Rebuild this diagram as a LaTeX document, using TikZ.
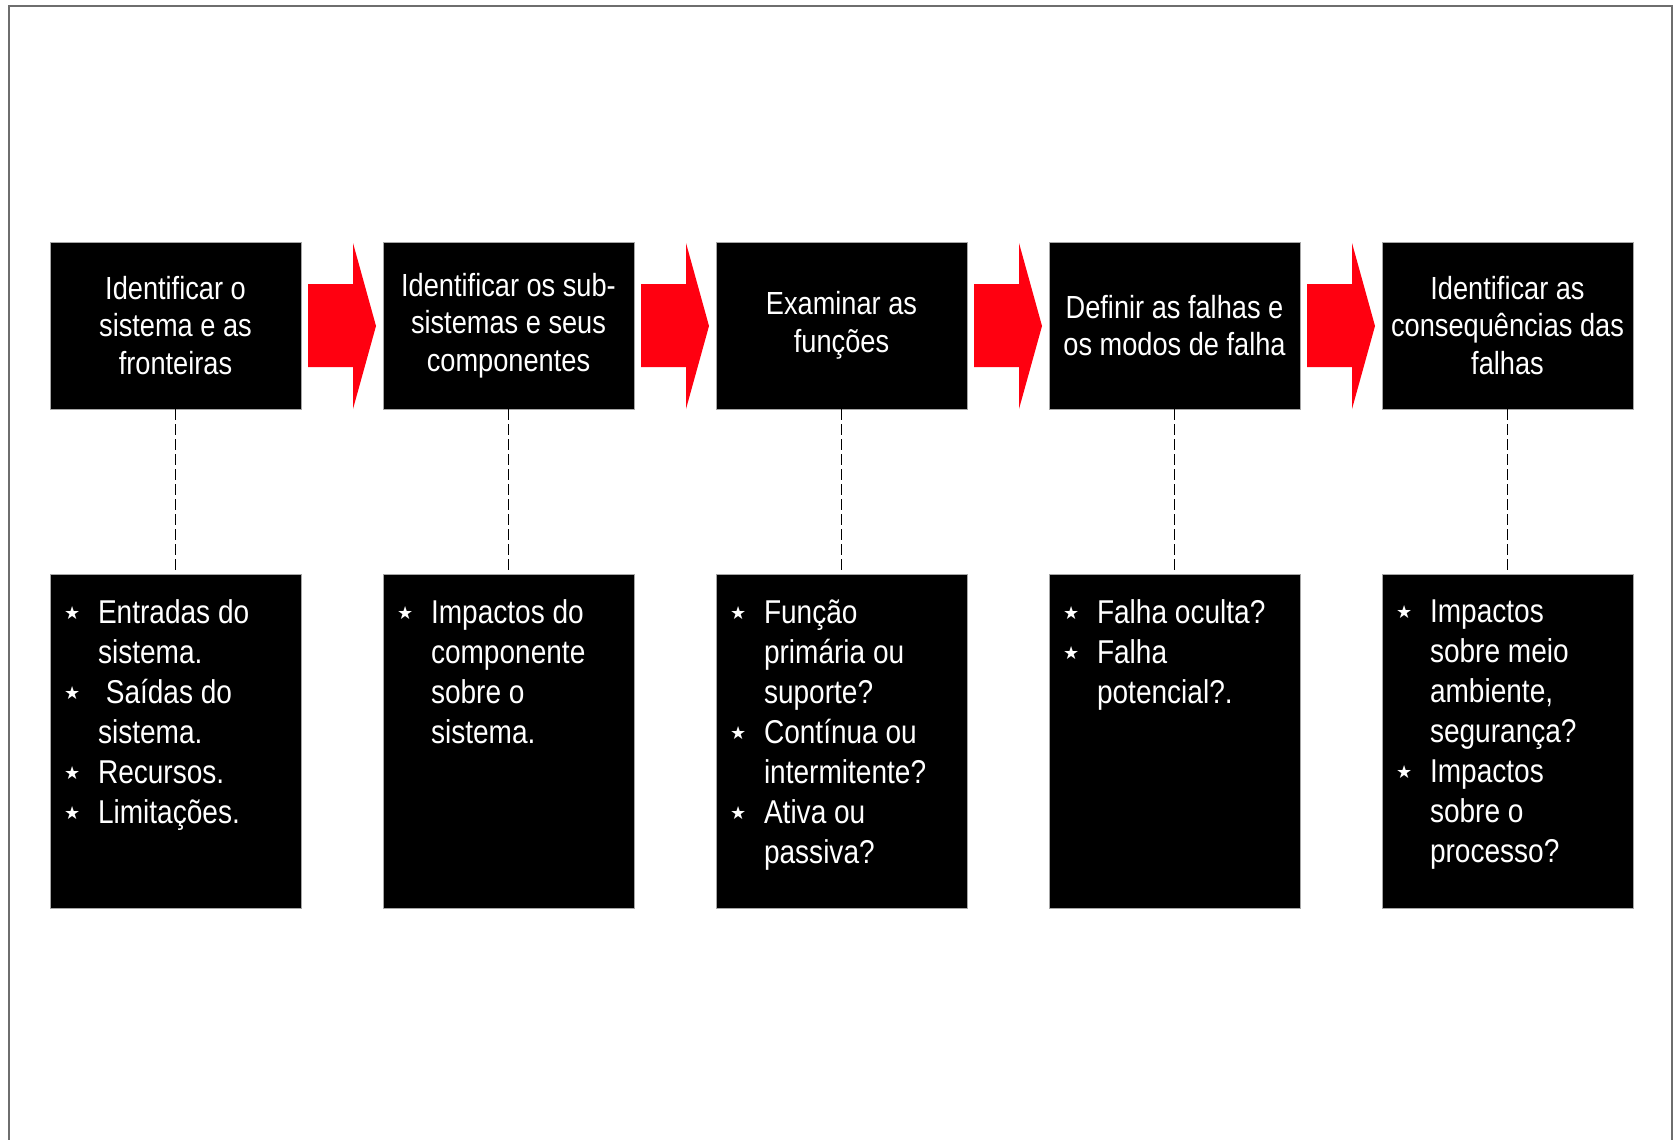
\documentclass[tikz,border=0pt]{standalone}
\usepackage{fontspec}
\setmainfont{Liberation Sans}[FakeStretch=0.85]
\newfontfamily\starfont{DejaVu Sans}
\definecolor{arrred}{RGB}{255,0,16}
\definecolor{framegray}{RGB}{110,110,110}
\newcommand{\itm}[1]{\par\noindent\llap{\makebox[35pt][l]{\hspace{1pt}\raisebox{4pt}{\starfont\fontsize{18}{18}\selectfont ★}}}#1}
\newcommand{\lowtext}[1]{\parbox[c][334pt][t]{225pt}{\raggedright\leftskip=35pt\parindent=0pt\fontsize{33}{40}\selectfont\vspace*{25pt}#1\par}}
\begin{document}
\begin{tikzpicture}[x=1pt,y=-1pt,
  topbox/.style={fill=black,draw=gray!70,line width=0.6pt,minimum width=251pt,minimum height=167pt,inner sep=0pt,
    text=white,align=center,font=\fontsize{32}{37.5}\selectfont},
  lowbox/.style={fill=black,draw=gray!70,line width=0.6pt,minimum width=251pt,minimum height=334pt,inner sep=0pt,text=white},
  link/.style={draw=black,line width=1.1pt,dash pattern=on 11pt off 4pt},
  redarrow/.style={fill=arrred,draw=none}]
\useasboundingbox (0,0) rectangle (1678,1140);
\fill[white] (0,0) rectangle (1678,1140);
\draw[framegray,line width=1.5pt] (9,1142) -- (9,6) -- (1672,6) -- (1672,1142);

\node[topbox] (t1) at (175.5,325.5) {Identificar o\\sistema e as\\fronteiras};
\node[topbox] (t2) at (508.5,325.5) {Identificar os sub-\\sistemas e seus\\componentes};
\node[topbox] (t3) at (841.5,325.5) {Examinar as\\funções};
\node[topbox] (t4) at (1174.5,325.5) {Definir as falhas e\\os modos de falha};
\node[topbox] (t5) at (1507.5,325.5) {Identificar as\\consequências das\\falhas};

\node[lowbox] (b1) at (175.5,741.5) {\lowtext{\itm{Entradas do\\sistema.}\itm{\ Saídas do\\sistema.}\itm{Recursos.}\itm{Limitações.}}};
\node[lowbox] (b2) at (508.5,741.5) {\lowtext{\itm{Impactos do\\componente\\sobre o\\sistema.}}};
\node[lowbox] (b3) at (841.5,741.5) {\lowtext{\itm{Função\\primária ou\\suporte?}\itm{Contínua ou\\intermitente?}\itm{Ativa ou\\passiva?}}};
\node[lowbox] (b4) at (1174.5,741.5) {\lowtext{\itm{Falha oculta?}\itm{Falha\\potencial?.}}};
\node[lowbox] (b5) at (1507.5,741.5) {\lowtext{\itm{Impactos\\sobre meio\\ambiente,\\segurança?}\itm{Impactos\\sobre o\\processo?}}};

\foreach \i in {1,...,5}{
  \draw[link] (t\i.south) -- (b\i.north);
}
\foreach \k in {0,1,2,3}{
  \begin{scope}[xshift=\k*333pt]
  \fill[redarrow] (308,284) -- (353,284) -- (353,243) -- (376,326) -- (353,409) -- (353,367) -- (308,367) -- cycle;
  \end{scope}
}
\end{tikzpicture}
\end{document}
